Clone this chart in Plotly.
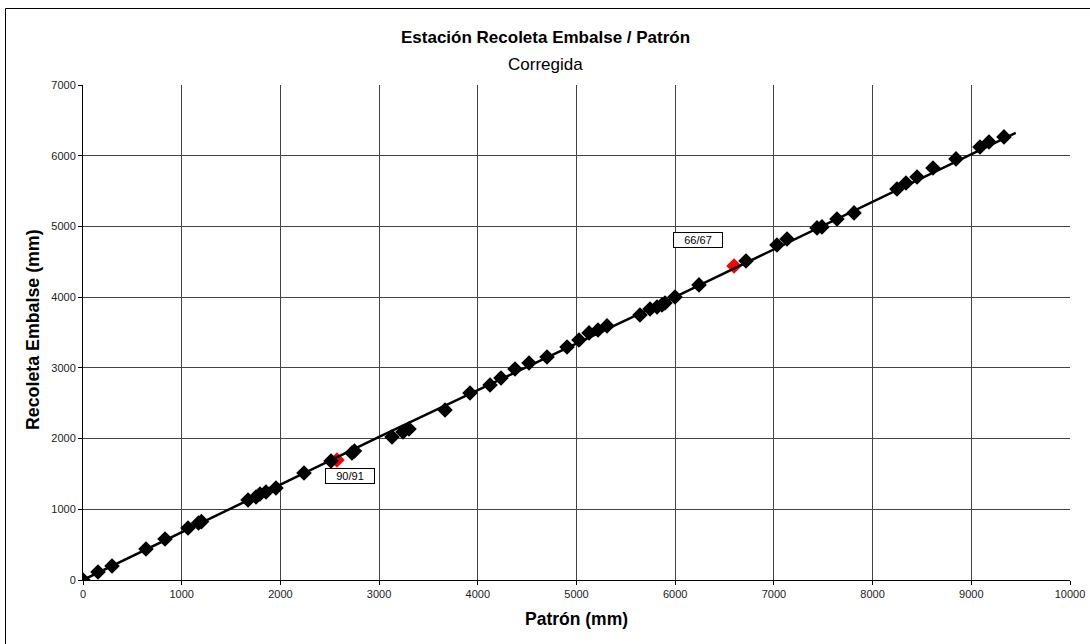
import plotly.graph_objects as go

# Black points (Patrón, Recoleta Embalse)
patron = [0, 152, 294, 638, 831, 1064, 1170, 1200, 1672, 1753, 1793, 1854, 1955,
          2239, 2513, 2725, 2750, 3131, 3242, 3303, 3668, 3921, 4124, 4235, 4377,
          4519, 4701, 4904, 5025, 5127, 5218, 5309, 5643, 5745, 5816, 5866, 5897,
          5998, 6241, 6717, 7031, 7133, 7437, 7487, 7639, 7812, 8247, 8338, 8450,
          8612, 8845, 9088, 9179, 9331]
recoleta = [0, 113, 198, 438, 580, 735, 806, 825, 1131, 1174, 1216, 1245, 1301,
            1513, 1683, 1796, 1825, 2023, 2093, 2136, 2405, 2645, 2758, 2857, 2984,
            3069, 3154, 3296, 3395, 3494, 3536, 3593, 3748, 3833, 3861, 3890, 3918,
            4003, 4173, 4512, 4738, 4823, 4979, 4993, 5106, 5191, 5530, 5615, 5700,
            5827, 5955, 6124, 6195, 6266]

# Highlighted (red) points
red_x = [2573, 6596]
red_y = [1697, 4441]
red_labels = ["90/91", "66/67"]

# Trend line
trend_x = [0, 3000, 6000, 9450]
trend_y = [0, 2025, 4005, 6322]

xticks = list(range(0, 10001, 1000))
xticktext = [str(v) for v in xticks]
yticks = list(range(0, 7001, 1000))
yticktext = [str(v) for v in yticks]

FONT = "Liberation Sans, Arial, sans-serif"

fig = go.Figure()
fig.add_trace(go.Scatter(x=red_x, y=red_y, mode="markers",
                         marker=dict(symbol="diamond", size=12, color="#ff0000"),
                         showlegend=False, hoverinfo="skip"))
fig.add_trace(go.Scatter(x=trend_x, y=trend_y, mode="lines",
                         line=dict(color="black", width=2.5),
                         showlegend=False, hoverinfo="skip"))
fig.add_trace(go.Scatter(x=patron, y=recoleta, mode="markers",
                         marker=dict(symbol="diamond", size=12, color="black"),
                         showlegend=False))

# Labels for red points
fig.add_annotation(x=red_x[0], y=red_y[0], text=red_labels[0], showarrow=False,
                   xanchor="center", yanchor="middle", xshift=13, yshift=-16,
                   font=dict(family=FONT, size=11, color="black"),
                   bordercolor="black", borderwidth=1, bgcolor="white", borderpad=1,
                   width=46)
fig.add_annotation(x=red_x[1], y=red_y[1], text=red_labels[1], showarrow=False,
                   xanchor="center", yanchor="middle", xshift=-36, yshift=26,
                   font=dict(family=FONT, size=11, color="black"),
                   bordercolor="black", borderwidth=1, bgcolor="white", borderpad=1,
                   width=46)

L, R, T, B = 83, 20, 85, 64
W, H = 1090, 644
pw, ph = W - L - R, H - T - B

def px(x):
    return (x - L) / pw

def py(y):
    return (H - B - y) / ph

def label(x, y, text, angle=0, size=17):
    fig.add_annotation(x=px(x), y=py(y), xref="paper", yref="paper",
                       xanchor="center", yanchor="middle",
                       text=text, showarrow=False, textangle=angle,
                       font=dict(family=FONT, size=size, color="black"))

# Titles
label(545, 37, "<b>Estación Recoleta Embalse / Patrón</b>")
label(545, 65, "Corregida")
label(576, 619, "<b>Patrón (mm)</b>", size=17.5)
label(33, 330, "<b>Recoleta Embalse (mm)</b>", angle=-90, size=17.8)

# Outer frame (extends past right/bottom edge)
fig.add_shape(type="rect", xref="paper", yref="paper",
              x0=px(5.5), y0=py(660), x1=px(1100), y1=py(8.5),
              line=dict(color="black", width=1), layer="below")

fig.update_layout(
    width=W, height=H,
    margin=dict(l=L, r=R, t=T, b=B, autoexpand=False),
    paper_bgcolor="white", plot_bgcolor="white",
    font=dict(family=FONT, size=11, color="black"),
    xaxis=dict(range=[0, 10000], tickvals=xticks, ticktext=xticktext,
               ticks="outside", ticklen=4, automargin=False,
               tickcolor="black", showgrid=True, gridcolor="#444444", gridwidth=1,
               showline=True, linecolor="black", linewidth=1, mirror=False,
               zeroline=False, tickfont=dict(size=11, color="#222")),
    yaxis=dict(range=[0, 7000], tickvals=yticks, ticktext=yticktext,
               ticks="outside", ticklen=4, automargin=False,
               tickcolor="black", showgrid=True, gridcolor="#444444", gridwidth=1,
               showline=True, linecolor="black", linewidth=1, mirror=False,
               zeroline=False, tickfont=dict(size=11, color="#222")),
)

fig.write_html("out.html")
